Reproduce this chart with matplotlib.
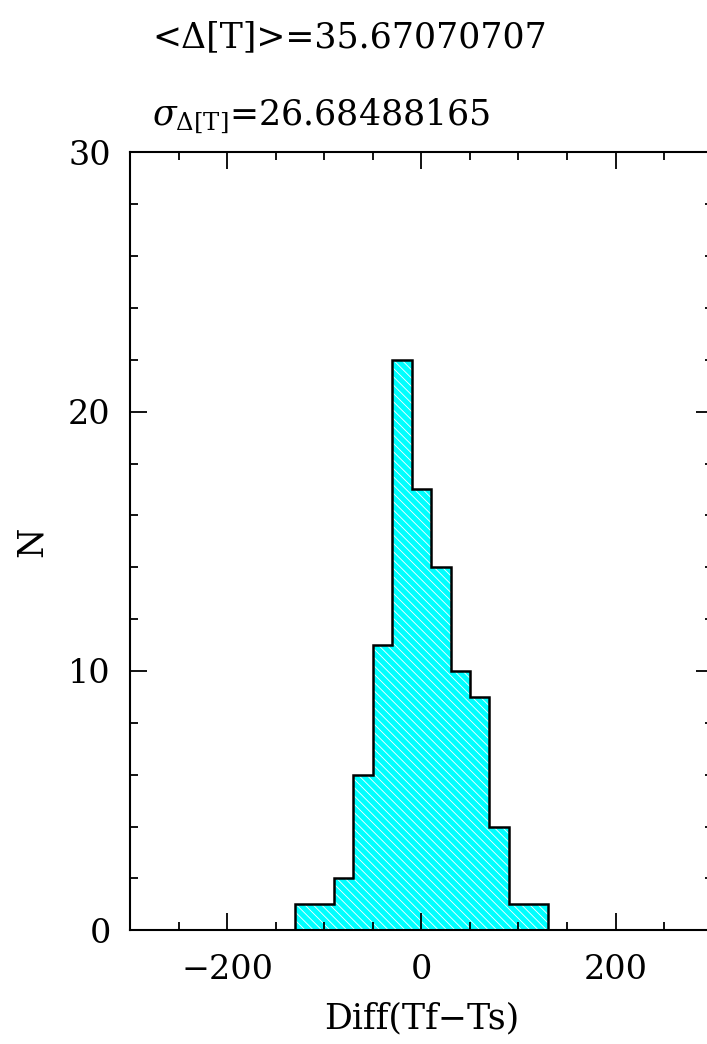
import numpy as np
import matplotlib
matplotlib.use('Agg')
import matplotlib.pyplot as plt
from matplotlib.ticker import MultipleLocator

# histogram of Diff(Tf-Ts), bins of width 20
bin_edges = [-130, -110, -90, -70, -50, -30, -10, 10, 30, 50, 70, 90, 110, 130]
counts = [1, 1, 2, 6, 11, 22, 17, 14, 10, 9, 4, 1, 1]

mean_text = '<Δ[T]>=35.67070707'
sigma_text = r'$\sigma_{\Delta[\mathrm{T}]}$=26.68488165'

plt.rcParams['font.family'] = ['DejaVu Serif']
plt.rcParams['mathtext.fontset'] = 'dejavuserif'
plt.rcParams['hatch.linewidth'] = 0.6

fig = plt.figure(figsize=(7.07, 10.44), dpi=100)
ax = fig.add_axes([0.184, 0.109, 0.824, 0.745])

# hatched cyan fill, then black outline on top
ax.stairs(counts, bin_edges, baseline=0, fill=True, facecolor='#00ffff',
          edgecolor='white', hatch='\\\\\\\\', linewidth=0)
ax.stairs(counts, bin_edges, baseline=0, color='black', linewidth=1.8)

ax.set_xlim(-300, 300)
ax.set_ylim(0, 30)
ax.xaxis.set_major_locator(MultipleLocator(200))
ax.xaxis.set_minor_locator(MultipleLocator(50))
ax.yaxis.set_major_locator(MultipleLocator(10))
ax.yaxis.set_minor_locator(MultipleLocator(2))
ax.tick_params(which='both', direction='in', top=True, right=True,
               labelsize=24, width=1.3)
ax.tick_params(which='major', length=12)
ax.tick_params(which='minor', length=6)
ax.tick_params(axis='x', which='major', pad=17)
ax.tick_params(axis='y', which='major', pad=14)
for s in ax.spines.values():
    s.set_linewidth(1.5)

ax.set_xlabel('Diff(Tf−Ts)', fontsize=25, va='baseline')
ax.xaxis.set_label_coords(0.5, -0.126)
ax.set_ylabel('N', fontsize=25, va='center')
ax.yaxis.set_label_coords(-0.168, 0.5)

fig.text(0.215, 0.955, mean_text, fontsize=25, va='baseline', ha='left')
fig.text(0.215, 0.880, sigma_text, fontsize=25, va='baseline', ha='left')

fig.savefig('out.png', dpi=100)
